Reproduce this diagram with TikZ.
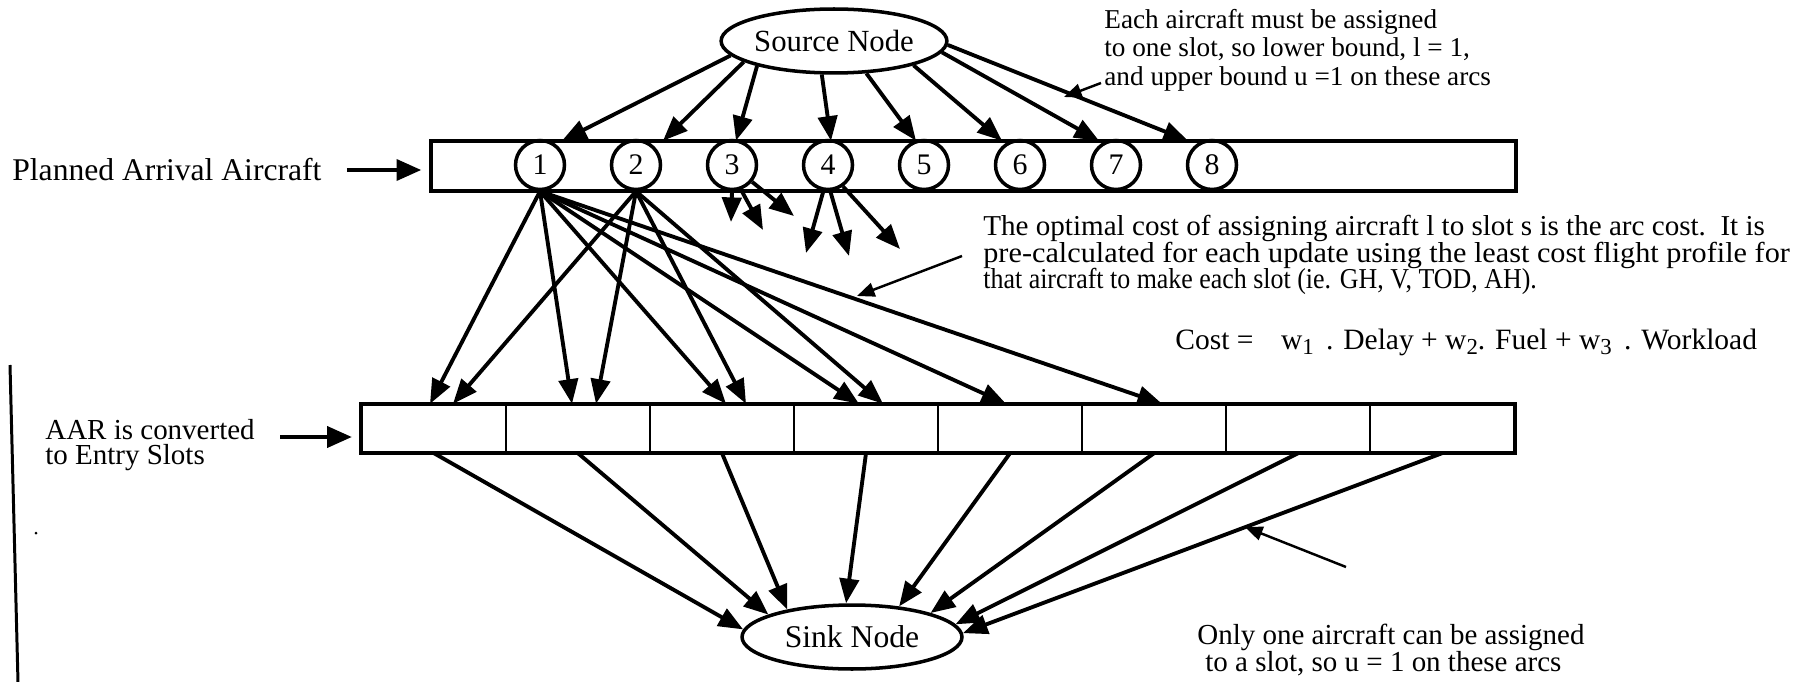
\documentclass[tikz,border=0pt]{standalone}
\usepackage{fontspec,graphicx}
\setmainfont{Liberation Serif}
\usetikzlibrary{arrows.meta,shapes.geometric}
\newcommand{\wsub}[1]{w\raisebox{-0.4ex}{\fontsize{13}{13}\selectfont #1}}

\begin{document}
\begin{tikzpicture}[x=0.02cm,y=-0.02cm,
  flowarc/.style={line width=2.2pt,-{Triangle[length=14pt,width=11pt]}},
  feed/.style={line width=1.9pt,-{Triangle[length=14pt,width=12pt]}},
  pointarrow/.style={line width=1.4pt,-{Triangle[length=10pt,width=8pt]}},
  endnode/.style={draw,ellipse,line width=2pt,inner sep=0pt,minimum width=4.4cm,minimum height=1.28cm},
  acbar/.style={draw,line width=2.2pt,minimum width=21.7cm,minimum height=1cm,inner sep=0pt},
  acnode/.style={draw,circle,line width=2pt,minimum size=0.98cm,inner sep=0pt,font=\fontsize{17}{17}\selectfont},
  slotbox/.style={draw,line width=1.4pt,minimum width=2.88cm,minimum height=0.94cm,inner sep=0pt},
  notetext/.style={inner sep=0pt,align=left,anchor=west}]
\useasboundingbox (0,0) rectangle (1817,682);
\node[endnode,font=\fontsize{17.5}{18}\selectfont] (src) at (834,41) {Source Node};
\node[acbar] (bar) at (973.5,166) {};
\foreach \i in {1,...,8}
  \node[acnode] (c\i) at ({540+96*(\i-1)},165) {\i};
\foreach \i in {1,...,8}
  \node[slotbox] (s\i) at ({362+144*\i-72},428.5) {};
\draw[line width=2.2pt] (s1.north west) rectangle (s8.south east);
\node[endnode,font=\fontsize{18}{18}\selectfont] (snk) at (852,637) {Sink Node};
\foreach \i/\a/\dx in {1/188/22,2/193/27,3/198/4,4/250/3,5/-45/-8,6/-17/-18,7/-6/-17,8/-2/-24}
  \draw[flowarc] (src.\a) -- ([shift={(\dx,2)}]c\i.north);
\foreach \k/\dx in {1/-4,2/-6,3/4,4/-7,5/-4,6/8}
  \draw[flowarc] (c1.south) -- ([shift={(\dx,0)}]s\k.north);
\foreach \k/\dx in {1/19,2/18,3/24,4/17}
  \draw[flowarc] (c2.south) -- ([shift={(\dx,0)}]s\k.north);
\coordinate (d3a) at (731,222);
\coordinate (d3b) at (763,230);
\coordinate (d3c) at (794,216);
\coordinate (d4a) at (806,253);
\coordinate (d4b) at (849,256);
\coordinate (d4c) at (900,249);
\draw[flowarc] (c3.-90) -- (d3a);
\draw[flowarc] (c3.-70) -- (d3b);
\draw[flowarc] (c3.-40) -- (d3c);
\draw[flowarc] (c4.-100) -- (d4a);
\draw[flowarc] (c4.-85) -- (d4b);
\draw[flowarc] (c4.-55) -- (d4c);
\foreach \k/\a in {1/176,2/165,3/157,4/100,5/33,6/17,7/7,8/2}
  \draw[flowarc] (s\k.south) -- (snk.\a);
\node[notetext,font=\fontsize{18}{20}\selectfont] (pla) at (12,170) {Planned Arrival Aircraft};
\draw[feed,shorten <=0.5cm,shorten >=0.16cm] (pla.east) -- (pla.east -| bar.west);
\node[notetext,font=\fontsize{16.5}{17}\selectfont] (aar) at (45,445) {AAR is converted\\[-2.4pt]to Entry Slots};
\coordinate (aarfeed) at (280,437);
\draw[feed,shorten >=0.18cm] (aarfeed) -- (aarfeed -| s1.west);
\node[notetext,font=\fontsize{15.5}{16.2}\selectfont] (bnd) at (1104,50) {Each aircraft must be assigned\\to one slot, so lower bound, l = 1,\\and upper bound u =1 on these arcs};
\coordinate (p1s) at (1101,83);
\coordinate (p1e) at (1064,97);
\draw[pointarrow] (p1s) -- (p1e);
\node[notetext,font=\fontsize{16.4}{17}\selectfont] (opt) at (983,255) {\scalebox{1.01}[1]{The optimal cost of assigning aircraft l to slot s is the arc cost.\ \ It is}\\[-1.9pt]\scalebox{1.05}[1]{pre-calculated for each update using the least cost flight profile for}\\[-1.9pt]\scalebox{0.9}[1]{that aircraft to make each slot (ie. GH, V, TOD, AH).}};
\coordinate (p2s) at (962,256);
\coordinate (p2e) at (857,296);
\draw[pointarrow] (p2s) -- (p2e);
\node[notetext,font=\fontsize{16.8}{18}\selectfont] (cost) at (1175,342) {Cost =\hspace{0.55cm}\wsub{1}\hspace{0.1cm} . Delay + \wsub{2}. Fuel + \wsub{3}\hspace{0.1cm} . Workload};
\node[notetext,font=\fontsize{16.5}{17}\selectfont] (one) at (1197,650) {Only one aircraft can be assigned\\[-1.6pt]\hspace*{0.16cm}to a slot, so u = 1 on these arcs};
\coordinate (p3s) at (1346,567);
\coordinate (p3e) at (1245,527);
\draw[pointarrow] (p3s) -- (p3e);
\draw[line width=1.7pt] (10,365) -- (18,682);
\fill (36,533) circle (1.5);
\end{tikzpicture}
\end{document}
